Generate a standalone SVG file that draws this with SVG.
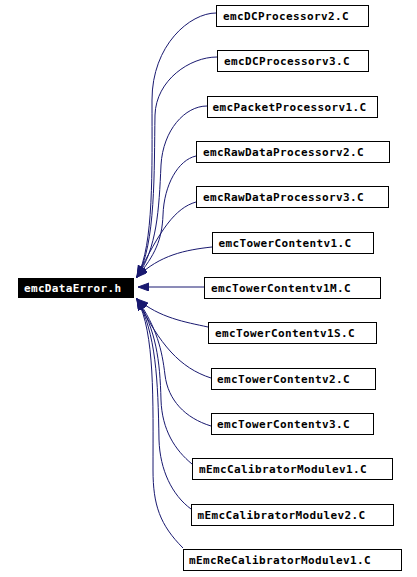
<svg xmlns="http://www.w3.org/2000/svg" width="417" height="577" viewBox="0 0 417 577">
<style>
.b{fill:#fff;stroke:#000;stroke-width:1}
.t{font-family:"DejaVu Sans Mono","Liberation Mono",monospace;font-weight:bold;font-size:11px;fill:#000}
.w{fill:#fff}
.e{fill:none;stroke:#191970;stroke-width:1}
</style>
<defs>
<marker id="a" markerUnits="userSpaceOnUse" markerWidth="12" markerHeight="9" refX="11" refY="4" orient="auto">
<path d="M0,0 L11,4 L0,8 z" fill="#191970" stroke="#191970" stroke-width="1"/>
</marker>
</defs>
<rect width="417" height="577" fill="#fff"/>
<g id="edges">
<path class="e" marker-end="url(#a)" d="M216,13 C190,13 152,45 152,100 C152,170 154,245 137,277"/>
<path class="e" marker-end="url(#a)" d="M217,57 C190,57 156,80 155,115 C154,170 156,245 137,277"/>
<path class="e" marker-end="url(#a)" d="M207,106 C185,106 163,130 161,165 C159,210 157,248 137,277"/>
<path class="e" marker-end="url(#a)" d="M196,156 C178,160 164,185 163,215 C162,240 155,255 137,277"/>
<path class="e" marker-end="url(#a)" d="M196,202 C175,208 160,230 137,277"/>
<path class="e" marker-end="url(#a)" d="M212,247 C185,250 160,255 137,277"/>
<path class="e" marker-end="url(#a)" d="M204,287 L138,287"/>
<path class="e" marker-end="url(#a)" d="M208,327 C185,322 160,318 137,299"/>
<path class="e" marker-end="url(#a)" d="M211,378 C180,368 160,345 137,299"/>
<path class="e" marker-end="url(#a)" d="M211,426 C185,418 168,400 165,375 C162,350 157,328 137,299"/>
<path class="e" marker-end="url(#a)" d="M192,464 C175,450 162,430 161,400 C160,360 156,330 137,299"/>
<path class="e" marker-end="url(#a)" d="M191,509 C172,495 160,470 159,440 C158,380 156,333 137,299"/>
<path class="e" marker-end="url(#a)" d="M183,548 C160,525 153,505 153,470 C153,400 155,333 137,299"/>
</g>
<g id="emcDataError"><rect x="18" y="278" width="116" height="20" fill="#000"/><text class="t w" x="24" y="292" textLength="97">emcDataError.h</text></g>
<g id="n1"><rect class="b" x="216.5" y="5.5" width="152" height="21"/><text class="t" x="223" y="20" textLength="125.5">emcDCProcessorv2.C</text></g>
<g id="n2"><rect class="b" x="217.5" y="50.5" width="151" height="21"/><text class="t" x="224" y="65" textLength="125.5">emcDCProcessorv3.C</text></g>
<g id="n3"><rect class="b" x="207.5" y="96.5" width="170" height="21"/><text class="t" x="212.5" y="111" textLength="153.5">emcPacketProcessorv1.C</text></g>
<g id="n4"><rect class="b" x="196.5" y="141.5" width="193" height="21"/><text class="t" x="203" y="156" textLength="160.5">emcRawDataProcessorv2.C</text></g>
<g id="n5"><rect class="b" x="196.5" y="186.5" width="192" height="21"/><text class="t" x="203" y="201" textLength="160.5">emcRawDataProcessorv3.C</text></g>
<g id="n6"><rect class="b" x="212.5" y="232.5" width="161" height="21"/><text class="t" x="218.5" y="247" textLength="132.5">emcTowerContentv1.C</text></g>
<g id="n7"><rect class="b" x="204.5" y="277.5" width="176" height="21"/><text class="t" x="211" y="292" textLength="139.5">emcTowerContentv1M.C</text></g>
<g id="n8"><rect class="b" x="208.5" y="322.5" width="168" height="21"/><text class="t" x="215" y="337" textLength="139.5">emcTowerContentv1S.C</text></g>
<g id="n9"><rect class="b" x="211.5" y="368.5" width="164" height="21"/><text class="t" x="217" y="383" textLength="132.5">emcTowerContentv2.C</text></g>
<g id="n10"><rect class="b" x="211.5" y="413.5" width="162" height="21"/><text class="t" x="217" y="428" textLength="132.5">emcTowerContentv3.C</text></g>
<g id="n11"><rect class="b" x="192.5" y="458.5" width="200" height="21"/><text class="t" x="199" y="473" textLength="167.5">mEmcCalibratorModulev1.C</text></g>
<g id="n12"><rect class="b" x="191.5" y="504.5" width="202" height="21"/><text class="t" x="197.5" y="519" textLength="167.5">mEmcCalibratorModulev2.C</text></g>
<g id="n13"><rect class="b" x="183.5" y="549.5" width="218" height="21"/><text class="t" x="189" y="564" textLength="181.5">mEmcReCalibratorModulev1.C</text></g>
</svg>
